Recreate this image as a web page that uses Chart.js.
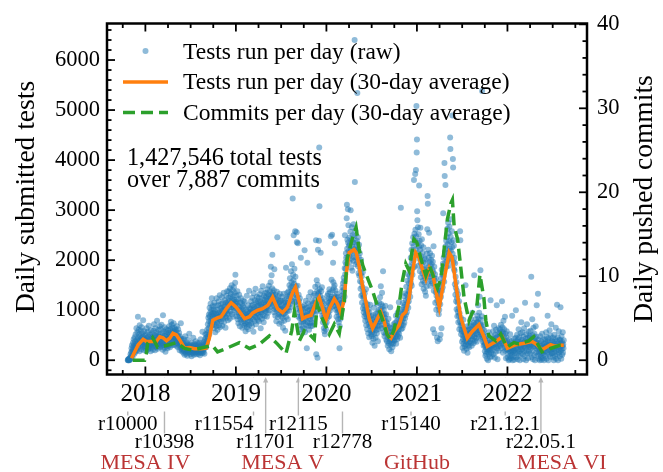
<!DOCTYPE html>
<html>
<head>
<meta charset="utf-8">
<script src="https://cdn.jsdelivr.net/npm/chart.js"></script>
<style>
html,body{margin:0;padding:0;background:#fff;}
#wrap{width:663px;height:472px;position:relative;}
</style>
</head>
<body>
<div id="wrap"><canvas id="c" width="663" height="472"></canvas></div>
<script>
// ---------------- data ----------------
const raw2017Start = '2017-10-22';
const raw2017 = [0,10,0,20,0,30,10,0,40,20,
50,120,30,80,160,240,90,300,180,60,210,350,140,270,420,190,310,130,460,250,380,170,520,290,230,640,340,200,410,560,
330,870,450,260,610,380,520,180,700,410,290,480,350,590,220,440,660,310,390,540,270,470,800,360,200,430,580,320,490,250,410];
const raw2018 = [360,280,520,410,190,640,330,450,260,380,570,220,470,310,690,400,240,350,510,290,430,180,600,370,320,480,250,540,300,420,210,
460,350,590,280,720,410,330,500,200,640,380,450,310,560,260,480,790,370,420,230,530,340,610,290,470,400,680,320,
510,380,260,620,440,330,710,290,470,360,540,210,900,450,310,580,390,250,660,420,340,490,170,560,300,430,620,280,380,510,240,
470,350,600,420,290,540,680,380,510,260,620,450,330,770,560,400,710,480,300,650,530,420,590,360,740,470,310,560,640,430,
520,380,610,450,290,570,410,680,340,500,430,260,620,390,470,310,550,360,200,480,330,410,280,740,350,230,430,180,390,300,250,
210,340,150,280,420,190,260,110,310,230,480,170,290,130,360,240,200,320,90,270,410,180,250,150,300,220,530,160,280,200,
240,120,310,190,270,80,350,210,160,290,230,140,450,200,260,110,320,180,240,300,150,220,380,170,250,120,290,200,160,340,230,
190,270,130,310,220,160,350,240,100,280,200,420,150,260,180,310,230,140,570,250,190,300,160,360,220,270,130,330,410,280,520,
300,450,260,380,520,340,610,470,420,720,560,850,640,910,780,520,1050,880,690,960,1130,800,740,1010,920,1240,830,700,1080,950,
880,760,1020,640,930,1150,710,850,980,560,1090,800,920,680,1240,870,750,1010,610,940,1100,790,860,1180,700,950,820,1300,660,900,1040,
930,1120,780,1050,870,1260,690,990,1140,830,1010,920,1350,760,1080,940,1200,870,1030,650,1150,980,1290,850,1090,1010,1380,920,1160,800,
1120,1250,940,1380,1060,1190,830,1440,1100,1270,980,1330,1150,1060,1500,920,1230,1120,1400,870,1180,1290,1050,1460,990,1210,1350,1080,1550,1710,1130];
const raw2019 = [1170,1040,1290,880,1160,960,1380,820,1090,1220,740,1010,930,1310,870,1060,680,990,1150,810,940,1240,760,1020,890,1130,650,960,1080,830,1190,
920,780,1050,690,860,1170,740,940,580,830,1010,720,900,1290,660,870,980,760,1100,620,850,930,1390,710,880,1040,790,960,
1020,850,1180,740,960,1090,680,1250,930,820,1110,1010,570,1340,900,1060,780,1200,960,870,1430,1030,720,1150,990,850,1270,1080,940,1180,810,
1090,920,1250,780,1140,1010,1320,870,960,1180,640,1070,1390,950,1120,830,1240,1000,1480,900,1060,1150,760,1290,1020,1210,880,1340,990,1110,
1140,980,1260,1050,1350,870,1190,1420,1080,1230,950,1310,1120,1490,1000,1270,1160,1380,1060,1240,1560,1870,1130,1320,1700,1210,1440,2110,1180,1350,1290,
1260,1080,1400,960,1820,1150,1020,1310,890,1180,1060,1240,780,1120,1370,990,2460,1090,860,1210,1030,1280,920,1150,730,1070,1330,950,1180,1010,
1030,880,1190,760,1100,960,1270,850,1040,650,1150,920,1330,1010,790,1200,940,1080,590,1160,1000,1850,870,1090,1230,980,1350,1110,820,1280,1060,
1150,1380,990,1270,1500,1120,1640,1310,1060,1450,1780,1210,1560,1390,1920,1180,1480,3230,1350,1710,1600,2500,1260,1530,1830,1420,1150,2580,1670,1310,1480,
1390,1170,2560,2360,1250,1030,1490,2340,1120,870,1310,950,1180,700,1060,1240,830,990,620,2050,880,760,1020,540,910,830,1070,650,880,760,
920,780,1100,640,2200,1030,560,960,820,1190,710,900,1050,240,880,1950,760,990,1140,690,850,1270,610,930,1080,740,1010,820,1360,680,950,
880,1040,760,1180,950,690,1120,1010,840,1290,980,1150,730,1330,1060,920,1470,1210,1080,2400,120,1130,1600,990,1380,50,1510,2210,1320,1240,
1350,2390,4250,3080,1420,1160,1290,980,2150,1210,1380,1050,1170,1460,890,1090,1240,760,1020,850,1130,640,930,580,790,520,860,710,980,620,880];
const raw2020 = [1010,760,1180,920,1290,850,1070,1330,960,1150,1240,880,1420,1100,990,1360,1180,1050,2480,1230,1130,1610,1270,2510,1190,1400,1080,1950,1560,1240,1450,
1280,1170,1500,2340,1220,1090,1390,1010,1260,1150,870,1330,1040,1180,960,1270,820,1100,990,760,1210,900,240,680,980,1140,830,1020,910,
1120,1010,1290,1380,1150,1460,1230,1540,1320,1190,1650,1420,1580,1270,1840,2500,1720,1960,1830,2140,2050,1920,2840,3110,2230,2410,2060,3020,2350,2700,2180,
2290,2080,2450,1960,2320,2150,2570,3000,2210,1850,2400,2030,2660,2280,1790,2500,2140,2360,1990,2720,2230,2060,2480,6400,3560,2170,2590,1920,2350,2210,
2280,2050,2390,1960,5340,2170,2460,1880,2230,1740,2060,2310,1690,1950,2140,1580,1820,1430,1730,2010,1290,1560,1680,1150,1470,1320,1760,1040,1250,1380,960,
1270,1090,880,1340,1010,790,1150,920,1420,700,1060,860,980,620,1120,810,930,540,1020,730,870,460,960,680,800,1110,590,750,880,520,
690,480,820,560,350,740,610,900,430,670,1050,530,780,290,640,860,710,450,930,600,780,1130,540,820,690,960,380,750,870,620,1010,
820,1150,690,940,1260,780,1030,1480,860,1120,640,990,1350,720,1080,910,1780,830,560,1010,770,920,480,850,660,1090,530,780,920,410,700,
610,380,740,520,290,680,450,830,340,560,220,490,650,380,1060,420,310,560,180,470,640,350,510,260,430,590,330,470,720,400,
520,680,390,610,750,460,570,890,330,640,510,780,420,700,950,560,480,820,610,1160,530,740,670,880,450,790,960,3050,620,850,710,
780,1010,640,920,1150,830,700,1060,890,1280,750,970,1110,840,1340,1020,910,1200,1470,1080,960,1310,1590,1150,1240,1720,1050,1380,1180,1540,
1360,1690,1450,1880,1270,1620,2050,1540,1780,2210,1490,1960,2340,1710,2080,1850,2460,1990,2280,3600,2150,2530,1870,2390,3720,2610,2220,3800,2480,5080,4150];
const raw2021 = [4410,2980,2800,2350,2660,2140,1890,2520,2270,3490,2030,2390,1780,2210,2650,1950,1660,2300,2080,1520,2420,1870,1740,2150,1590,1960,2260,1430,1810,2040,1680,
1550,1830,1370,2020,1640,1290,1760,1940,1480,2130,1710,2620,3280,3130,1860,2210,1590,2050,2550,1820,1960,1670,2140,1490,1880,1730,2010,1580,
1920,1680,2090,1540,1810,1970,620,1760,2280,1390,1650,1870,540,1590,1720,1150,1480,1360,1630,1010,1290,1420,450,1190,1350,380,1260,1080,1390,920,1140,
1010,1230,420,1380,1120,510,1490,1270,1640,640,1810,1390,1560,1720,1460,1930,2940,1680,2050,1840,1570,3940,3680,2170,1950,3500,2280,2060,2390,1870,
2210,2460,1980,2630,2320,2090,2750,2150,2540,1890,2380,2670,2230,2010,4450,4220,2470,2190,2820,2360,2040,2580,2260,4890,2130,4020,3850,2400,1960,2290,1820,
2050,1790,1520,1940,1310,1670,1450,1180,1560,1020,1390,1240,880,1150,970,1320,760,1040,890,1180,620,940,780,2580,2400,690,850,520,740,610,
580,370,690,250,490,420,810,330,560,190,470,620,280,530,380,1500,440,310,590,230,460,370,680,150,420,520,290,610,350,480,260,
540,690,380,620,470,830,350,560,720,290,610,480,950,410,570,680,340,750,520,1700,460,630,390,710,580,820,440,660,530,370,760,
640,890,520,760,1100,610,830,470,950,680,1270,560,720,1800,590,810,430,690,520,880,5380,460,620,370,540,710,290,480,600,350,
310,180,420,90,260,350,130,480,220,30,290,390,160,250,0,340,210,560,120,280,440,190,60,320,1200,230,150,370,270,80,300,
350,470,200,580,310,120,420,690,260,380,50,510,330,440,170,610,290,390,1100,240,460,20,370,520,280,640,190,410,330,550,
460,620,290,530,380,710,240,490,570,1180,340,660,420,150,550,790,310,480,620,260,400,870,190,530,350,40,460,300,580,220,380];
const raw2022 = [210,60,340,130,270,0,410,180,20,300,230,520,90,260,150,40,380,200,110,890,310,0,170,240,70,350,190,430,10,280,140,
320,180,450,1000,240,60,380,270,510,150,20,340,420,210,620,90,300,460,180,0,370,260,540,130,290,760,210,350,
410,230,560,120,330,20,470,280,640,180,370,80,1150,250,430,310,0,520,190,360,720,140,290,450,40,380,260,570,170,310,490,
280,460,130,590,370,240,1670,60,420,310,820,190,500,20,350,650,270,410,100,530,290,0,440,360,680,150,320,470,1100,230,
350,90,270,1330,190,410,30,260,150,340,0,220,480,120,290,60,380,170,10,250,530,140,310,40,200,420,110,270,0,330,180,
240,420,90,350,190,560,280,30,460,320,150,890,270,380,0,440,210,310,120,600,250,360,70,490,180,290,720,140,390,230,
310,140,450,60,280,370,0,220,510,160,330,90,420,250,650,30,300,190,380,1110,120,270,460,0,340,210,580,150,290,400,80,
260,410,1060,190,340,30,480,220,370,110,290,560,150,320,240,400];

const avgTestDates = ['2017-11-06','2017-12-03','2017-12-23','2018-01-05','2018-01-25','2018-02-14','2018-02-28','2018-03-13','2018-03-27','2018-04-09','2018-04-22','2018-05-06','2018-05-19','2018-06-08','2018-06-28','2018-07-18','2018-08-14','2018-09-03','2018-09-16','2018-09-30','2018-10-20','2018-11-02','2018-11-23','2018-12-13','2019-01-02','2019-01-22','2019-02-05','2019-02-25','2019-03-10','2019-03-30','2019-04-19','2019-05-10','2019-05-29','2019-06-18','2019-07-08','2019-07-28','2019-08-18','2019-08-29','2019-09-14','2019-09-27','2019-10-11','2019-10-31','2019-11-20','2019-12-03','2019-12-16','2019-12-30','2020-01-13','2020-02-02','2020-02-15','2020-02-29','2020-03-13','2020-03-22','2020-04-02','2020-04-22','2020-05-01','2020-05-12','2020-05-26','2020-06-09','2020-06-22','2020-07-06','2020-07-19','2020-08-08','2020-08-22','2020-09-04','2020-09-18','2020-10-01','2020-10-21','2020-11-03','2020-11-17','2020-11-30','2020-12-14','2020-12-27','2021-01-10','2021-01-23','2021-02-06','2021-02-20','2021-03-05','2021-03-24','2021-04-01','2021-04-21','2021-05-11','2021-05-23','2021-06-08','2021-06-27','2021-07-23','2021-08-11','2021-09-08','2021-09-28','2021-10-12','2021-11-15','2021-12-11','2022-01-01','2022-02-04','2022-03-09','2022-04-10','2022-04-30','2022-05-20','2022-06-24','2022-07-11','2022-08-03','2022-08-16'];
const avgTestValues = [40,310,420,375,375,375,470,450,390,440,540,505,410,240,255,230,230,240,440,800,850,870,1030,1150,1060,930,830,870,945,1000,1030,1100,1260,1030,950,1060,1360,1460,1160,830,870,900,1160,1260,1060,800,1030,1230,1130,930,1230,1750,2150,2210,2150,1890,1490,1160,830,640,770,965,770,505,440,570,700,900,965,1230,1750,2150,2050,1820,1620,1850,1750,1250,1060,1620,2150,2050,1480,850,440,570,710,470,275,375,470,240,310,340,375,310,210,310,280,300,300];

const avgCommitDates = ['2017-11-11','2017-12-29','2018-01-05','2018-01-10','2018-01-30','2018-02-19','2018-03-27','2018-05-06','2018-06-08','2018-07-10','2018-09-03','2018-09-28','2018-10-19','2018-11-23','2019-01-15','2019-02-25','2019-04-06','2019-05-16','2019-06-17','2019-07-22','2019-08-14','2019-08-25','2019-09-14','2019-10-04','2019-10-24','2019-11-13','2019-11-25','2019-12-15','2020-01-13','2020-02-02','2020-02-22','2020-03-13','2020-03-25','2020-04-14','2020-04-30','2020-05-12','2020-05-27','2020-06-14','2020-07-04','2020-07-24','2020-08-13','2020-09-02','2020-09-15','2020-10-01','2020-10-21','2020-11-03','2020-11-17','2020-11-30','2020-12-20','2021-01-01','2021-01-17','2021-02-06','2021-02-20','2021-03-12','2021-03-25','2021-04-08','2021-04-21','2021-05-04','2021-05-18','2021-05-24','2021-05-31','2021-06-14','2021-06-27','2021-07-10','2021-07-30','2021-08-11','2021-08-31','2021-09-12','2021-09-28','2021-10-06','2021-10-18','2021-11-15','2021-12-05','2021-12-30','2022-01-27','2022-02-16','2022-03-28','2022-04-17','2022-05-20','2022-06-24','2022-08-03','2022-08-16'];
const avgCommitValues = [0,0,0.8,2.0,2.7,1.55,1.75,2.1,1.4,1.2,1.6,1.75,1.0,1.4,2.1,1.4,1.9,2.9,1.95,0.8,3.5,5.8,2.3,3.5,3.1,2.5,6.6,5.0,3.1,4.3,3.2,7.0,12.1,14.4,15.8,13.3,11.3,9.9,8.4,6.6,5.0,3.1,2.5,3.7,6.6,9.4,11.5,10.7,14.4,14.0,12.1,10.1,11.3,9.7,8.6,9.7,13.3,16.8,18.7,19.1,16.0,14.4,11.0,7.5,4.7,5.6,6.5,10.2,7.4,4.7,2.9,2.3,3.1,1.55,2.1,1.95,2.3,2.8,1.0,1.4,1.8,1.8];

const yearTicks = [2018, 2019, 2020, 2021, 2022];
const leftTicks = [0, 1000, 2000, 3000, 4000, 5000, 6000];
const rightTicks = [0, 10, 20, 30, 40];

const releaseNames = ['r10000','r10398','r11554','r11701','r12115','r12778','r15140','r21.12.1','r22.05.1'];
const releaseDates = ['2017-10-22','2018-03-19','2019-03-13','2019-05-01','2019-09-10','2020-03-06','2020-12-08','2021-12-23','2022-05-16'];
const releaseRows  = [1,2,1,2,1,2,1,1,2];
const releaseAlign = ['center','center','right','center','center','center','center','center','center'];

const eraNames = ['MESA IV','MESA V','GitHub','MESA VI'];
const eraDates = ['2018-01-01','2019-07-08','2021-01-01','2022-08-08'];

const legendLabels = ['Tests run per day (raw)','Tests run per day (30-day average)','Commits per day (30-day average)'];
const statsLines = ['1,427,546 total tests','over 7,887 commits'];
const leftTitle = 'Daily submitted tests';
const rightTitle = 'Daily pushed commits';

// ---------------- helpers ----------------
function yearFrac(t){ const d=new Date(t); const y=d.getUTCFullYear(); const t0=Date.UTC(y,0,1), t1=Date.UTC(y+1,0,1); return y+(t-t0)/(t1-t0); }
function toYear(s){ const [y,m,d]=s.split('-').map(Number); return yearFrac(Date.UTC(y,m-1,d)); }
function daily(startStr, vals){ const [y,m,d]=startStr.split('-').map(Number); return vals.map((v,i)=>({x:yearFrac(Date.UTC(y,m-1,d+i)), y:v})); }

const rawPoints = [].concat(
  daily(raw2017Start, raw2017), daily('2018-01-01', raw2018), daily('2019-01-01', raw2019),
  daily('2020-01-01', raw2020), daily('2021-01-01', raw2021), daily('2022-01-01', raw2022));
const avgTestPts = avgTestDates.map((d,i)=>({x:toYear(d), y:avgTestValues[i]}));
const avgCommitPts = avgCommitDates.map((d,i)=>({x:toYear(d), y:avgCommitValues[i]}));

const FONT = "'Liberation Serif', 'Times New Roman', serif";
const BLUE = 'rgba(31,119,180,0.5)';
const ORANGE = '#ff7f0e';
const GREEN = '#2ca02c';
const RED = '#bb3434';

const decor = {
  id: 'decor',
  beforeDraw(chart){
    const c = chart.ctx, xs = chart.scales.x, a = chart.chartArea;
    c.save();
    c.fillStyle = '#fff'; c.fillRect(0,0,chart.width,chart.height);
    c.strokeStyle = '#b5b5b5'; c.fillStyle = '#b5b5b5'; c.lineWidth = 1.4;
    releaseDates.forEach((d,i)=>{
      const px = xs.getPixelForValue(toYear(d));
      const y0 = a.bottom + 2.5;
      const y1 = releaseRows[i] === 1 ? a.bottom + 41 : a.bottom + 59;
      c.beginPath(); c.moveTo(px, y0 + 4); c.lineTo(px, y1); c.stroke();
      c.beginPath(); c.moveTo(px, y0); c.lineTo(px - 2.6, y0 + 5.5); c.lineTo(px + 2.6, y0 + 5.5); c.closePath(); c.fill();
    });
    c.restore();
  },
  afterDraw(chart){
    const c = chart.ctx, xs = chart.scales.x, yl = chart.scales.y, yr = chart.scales.y2, a = chart.chartArea;
    c.save();
    // frame
    c.strokeStyle = '#000'; c.lineWidth = 2.5;
    c.strokeRect(a.left, a.top, a.right - a.left, a.bottom - a.top);
    // ticks (inward)
    c.lineWidth = 1.8;
    const seg = (x1,y1,x2,y2)=>{ c.beginPath(); c.moveTo(x1,y1); c.lineTo(x2,y2); c.stroke(); };
    for (let k = 2017*4; k <= 2022*4+3; k++) {
      const q = k/4, px = xs.getPixelForValue(q);
      if (px < a.left + 1 || px > a.right - 1) continue;
      const L = (k % 4 === 0) ? 8 : 4.5;
      seg(px, a.bottom, px, a.bottom - L); seg(px, a.top, px, a.top + L);
    }
    for (let v = -200; v <= 6600; v += 200) {
      const py = yl.getPixelForValue(v);
      if (py < a.top + 1 || py > a.bottom - 1) continue;
      seg(a.left, py, a.left + (v % 1000 === 0 ? 8 : 4.5), py);
    }
    for (let v = 0; v <= 40; v += 2) {
      const py = yr.getPixelForValue(v);
      if (py < a.top - 1 || py > a.bottom - 1) continue;
      seg(a.right, py, a.right - (v % 10 === 0 ? 8 : 4.5), py);
    }
    // legend
    c.textBaseline = 'alphabetic'; c.textAlign = 'left';
    c.font = `23.5px ${FONT}`;
    const lx0 = a.left + 16, lx1 = a.left + 61, tx = a.left + 76;
    c.fillStyle = BLUE; c.beginPath(); c.arc((lx0+lx1)/2, a.top + 27.5, 3, 0, Math.PI*2); c.fill();
    c.fillStyle = '#000'; c.fillText(legendLabels[0], tx, a.top + 35);
    c.strokeStyle = ORANGE; c.lineWidth = 3.5; seg(lx0, a.top + 58.5, lx1, a.top + 58.5);
    c.fillStyle = '#000'; c.fillText(legendLabels[1], tx, a.top + 65.5);
    c.strokeStyle = GREEN; c.setLineDash([12,6]); seg(lx0, a.top + 89, lx1, a.top + 89); c.setLineDash([]);
    c.fillStyle = '#000'; c.fillText(legendLabels[2], tx, a.top + 96);
    // stats text
    c.font = `24.2px ${FONT}`;
    c.fillText(statsLines[0], a.left + 20, a.top + 141);
    c.fillText(statsLines[1], a.left + 20, a.top + 163);
    // release labels
    c.fillStyle = '#000'; c.font = `21px ${FONT}`;
    releaseNames.forEach((n,i)=>{
      const px = xs.getPixelForValue(toYear(releaseDates[i]));
      c.textAlign = releaseAlign[i];
      c.fillText(n, px, releaseRows[i] === 1 ? a.bottom + 55.5 : a.bottom + 73);
    });
    // era labels
    c.textAlign = 'center';
    c.fillStyle = RED; c.font = `22px ${FONT}`;
    eraNames.forEach((n,i)=>{
      c.fillText(n, xs.getPixelForValue(toYear(eraDates[i])), a.bottom + 94.5);
    });
    // axis titles
    c.fillStyle = '#000'; c.font = `27.5px ${FONT}`; c.textAlign = 'center';
    const cy = (a.top + a.bottom) / 2;
    c.save(); c.translate(33.5, cy - 2); c.rotate(-Math.PI/2); c.fillText(leftTitle, 0, 0); c.restore();
    c.save(); c.translate(652, cy); c.rotate(-Math.PI/2); c.fillText(rightTitle, 0, 0); c.restore();
    c.restore();
  }
};

const tickFont = { family: FONT, size: 22.5 };
new Chart(document.getElementById('c'), {
  type: 'scatter',
  data: {
    datasets: [
      { label: legendLabels[0], data: rawPoints, type: 'scatter', yAxisID: 'y', order: 3,
        pointRadius: 3, pointBackgroundColor: BLUE, pointBorderWidth: 0, pointHoverRadius: 3 },
      { label: legendLabels[1], data: avgTestPts, type: 'line', yAxisID: 'y', order: 2,
        borderColor: ORANGE, borderWidth: 3.5, pointRadius: 0, tension: 0, fill: false },
      { label: legendLabels[2], data: avgCommitPts, type: 'line', yAxisID: 'y2', order: 1,
        borderColor: GREEN, borderWidth: 3.5, borderDash: [12,6], pointRadius: 0, tension: 0, fill: false }
    ]
  },
  options: {
    responsive: false, animation: false, devicePixelRatio: 1,
    layout: { padding: { top: 16.5, left: 0, right: 0, bottom: 0 } },
    plugins: { legend: { display: false }, tooltip: { enabled: false } },
    scales: {
      x: { type: 'linear', position: 'bottom', min: 2017.576, max: 2022.879,
        afterBuildTicks: s => { s.ticks = yearTicks.map(v => ({ value: v })); },
        afterFit: s => { s.height = 97.5; },
        grid: { display: false, drawTicks: false }, border: { display: false },
        ticks: { font: { family: FONT, size: 25 }, color: '#000', padding: 5, maxRotation: 0, autoSkip: false,
          callback: v => String(v), showLabelBackdrop: true, backdropColor: '#fff', backdropPadding: 2 } },
      y: { type: 'linear', position: 'left', min: -285, max: 6730,
        afterBuildTicks: s => { s.ticks = leftTicks.map(v => ({ value: v })); },
        afterFit: s => { s.width = 107; },
        grid: { display: false, drawTicks: false }, border: { display: false },
        ticks: { font: tickFont, color: '#000', padding: 7, callback: v => String(v) } },
      y2: { type: 'linear', position: 'right', min: -1.7, max: 40.1,
        afterBuildTicks: s => { s.ticks = rightTicks.map(v => ({ value: v })); },
        afterFit: s => { s.width = 76; },
        grid: { display: false, drawTicks: false }, border: { display: false },
        ticks: { font: tickFont, color: '#000', padding: 10, callback: v => String(v) } }
    }
  },
  plugins: [decor]
});
</script>
</body>
</html>
